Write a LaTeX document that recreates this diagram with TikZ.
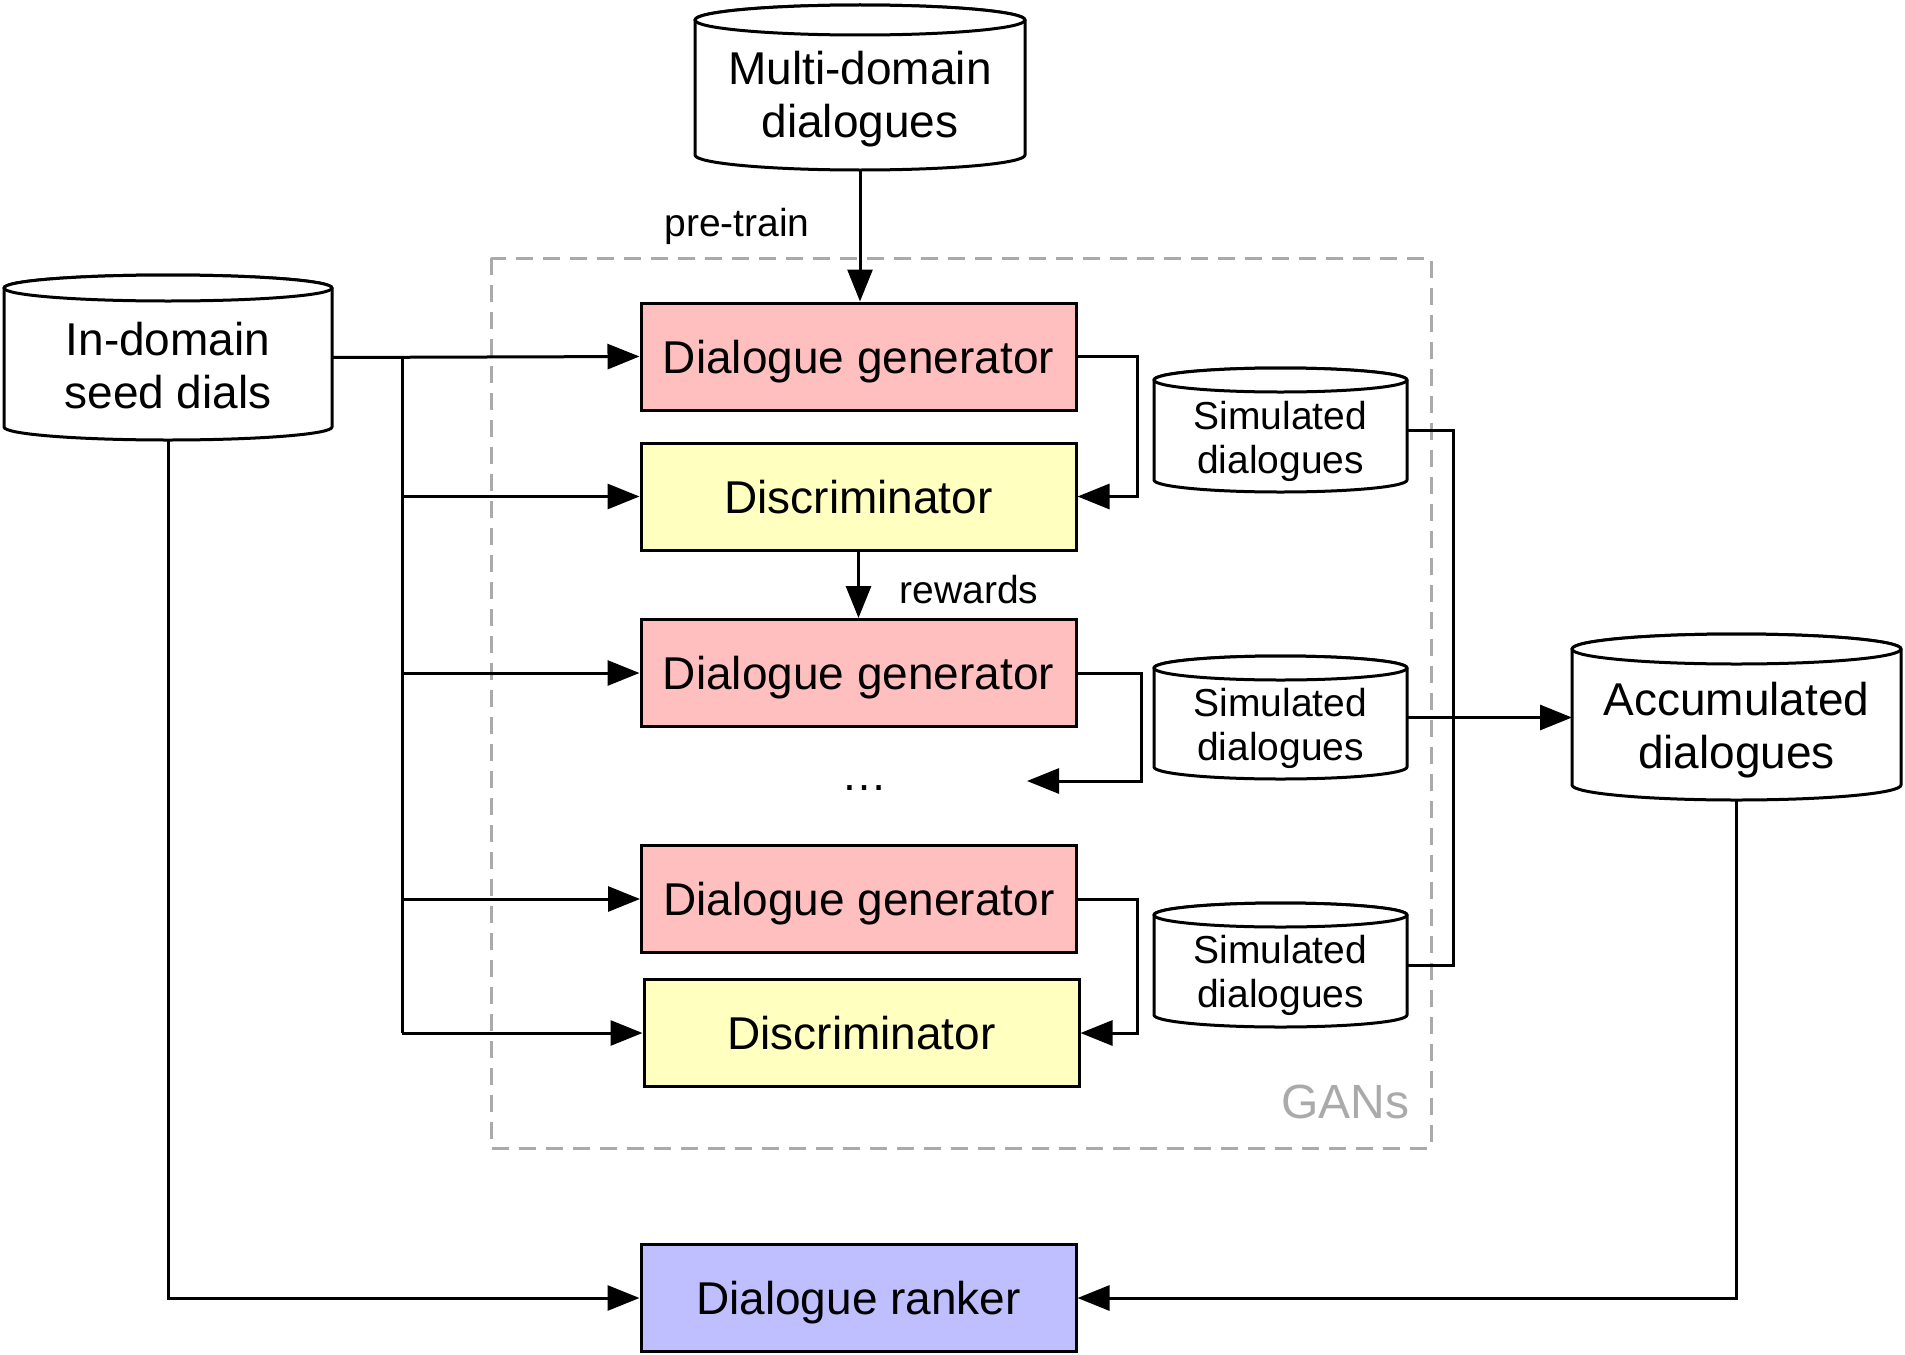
\documentclass[tikz,border=0pt]{standalone}
\usepackage{fontspec}
\setmainfont{Liberation Sans}
\usetikzlibrary{arrows.meta,calc}
\definecolor{genpink}{HTML}{FFBFBF}
\definecolor{discyellow}{HTML}{FFFFC0}
\definecolor{rankblue}{HTML}{BFBFFF}
\definecolor{gansgray}{HTML}{AAAAAA}
\newcommand\myBig{\fontsize{46}{53}\selectfont}
\newcommand\mySmall{\fontsize{39}{44}\selectfont}
\newcommand\drawcyl[5]{%
  \pgfmathsetmacro\cylrx{(#3-#1)/2}%
  \pgfmathsetmacro\cylcx{(#1+#3)/2}%
  \filldraw[cyl] (#1,#2+#5) -- (#1,#4-#5) arc[start angle=180,end angle=360,x radius=\cylrx pt,y radius=#5 pt] -- (#3,#2+#5) arc[start angle=0,end angle=180,x radius=\cylrx pt,y radius=#5 pt] -- cycle;
  \draw[cyl] (\cylcx,#2+#5) ellipse[x radius=\cylrx pt,y radius=#5 pt];
}
\tikzset{
  cyl/.style={line width=3pt, draw=black, fill=white, line join=round},
  proc/.style={draw=black, line width=3pt, minimum width=435pt, minimum height=107pt, inner sep=0pt, font=\myBig, text height=33pt, text depth=0pt},
  anchorbox/.style={inner sep=0pt, outer sep=0pt},
  bigt/.style={font=\myBig, align=center, inner sep=0pt},
  smallt/.style={font=\mySmall, align=center, inner sep=0pt},
  ln/.style={line width=3pt},
  arr/.style={line width=3pt, -{Triangle[length=32pt,width=25pt]}},
}
\begin{document}
\begin{tikzpicture}[x=1pt,y=-1pt]
\useasboundingbox (0,0) rectangle (1905,1354);
% GANs region
\draw[gansgray, line width=3pt, dash pattern=on 17pt off 10pt] (491,258) rectangle (1431,1148);
\node[font=\fontsize{48}{56}\selectfont, text=gansgray, inner sep=0pt] (ganslbl) at (1345,1102) {GANs};

% cylinders
\drawcyl{695}{5}{1025}{170}{15}
\node[anchorbox, minimum width=330pt, minimum height=165pt] (multi) at (860,87.5) {};
\node[bigt] (multit) at (860,99) {Multi-domain\\dialogues};

\drawcyl{4}{275}{332}{440}{13}
\node[anchorbox, minimum width=328pt, minimum height=165pt] (indomain) at (168,357.5) {};
\node[bigt] (indomaint) at (168,366) {In-domain\\seed dials};

\drawcyl{1154}{368}{1407}{492}{12}
\node[anchorbox, minimum width=253pt, minimum height=124pt] (sim1) at (1280.5,430) {};
\node[smallt] (sim1t) at (1280.5,441) {Simulated\\dialogues};

\drawcyl{1154}{656}{1407}{779}{12}
\node[anchorbox, minimum width=253pt, minimum height=123pt] (sim2) at (1280.5,717.5) {};
\node[smallt] (sim2t) at (1280.5,728) {Simulated\\dialogues};

\drawcyl{1154}{903}{1407}{1027}{12}
\node[anchorbox, minimum width=253pt, minimum height=124pt] (sim3) at (1280.5,965) {};
\node[smallt] (sim3t) at (1280.5,975) {Simulated\\dialogues};

\drawcyl{1572}{634}{1901}{800}{15}
\node[anchorbox, minimum width=329pt, minimum height=166pt] (acc) at (1736.5,717) {};
\node[bigt] (acct) at (1736.5,730) {Accumulated\\dialogues};

% process boxes
\node[proc, fill=genpink] (dg1) at (858.5,356.5) {Dialogue generator};
\node[proc, fill=discyellow] (disc1) at (858.5,496.5) {Discriminator};
\node[proc, fill=genpink] (dg2) at (858.5,673) {Dialogue generator};
\node[proc, fill=genpink] (dg3) at (859,899) {Dialogue generator};
\node[proc, fill=discyellow] (disc2) at (861.5,1033) {Discriminator};
\node[proc, fill=rankblue] (ranker) at (858.5,1298) {Dialogue ranker};

\node[bigt, anchor=base] (dots) at (864,790) {…};
\coordinate (dotsin) at (1027,781);

% labels
\node[smallt] (ptlbl) at (737,226) {pre-train};
\node[smallt] (rewlbl) at (969,590) {rewards};

% connectors
\draw[arr] (multi.south) -- (multi.south |- dg1.north);
\draw[arr] (indomain.east) -- (dg1.west);
\coordinate (tr) at (402,357.5);
\draw[ln] (tr) -- (tr |- disc2.west);
\draw[arr] (tr |- disc1.west) -- (disc1.west);
\draw[arr] (tr |- dg2.west) -- (dg2.west);
\draw[arr] (tr |- dg3.west) -- (dg3.west);
\draw[arr] (tr |- disc2.west) -- (disc2.west);

\draw[arr] (dg1.east) -- ++(60,0) |- (disc1.east);
\draw[arr] (dg2.east) -- ++(64,0) |- (dotsin);
\draw[arr] (dg3.east) -- ++(59,0) |- (disc2.east);

\draw[arr] (disc1.south) -- (disc1.south |- dg2.north);

\draw[ln] (sim1.east) -- ++(46,0) |- (sim3.east);
\draw[arr] (sim2.east) -- (sim2.east -| acc.west);

\draw[arr] (indomain.south) |- (ranker.west);
\draw[arr] (acc.south) |- (ranker.east);
\end{tikzpicture}
\end{document}
